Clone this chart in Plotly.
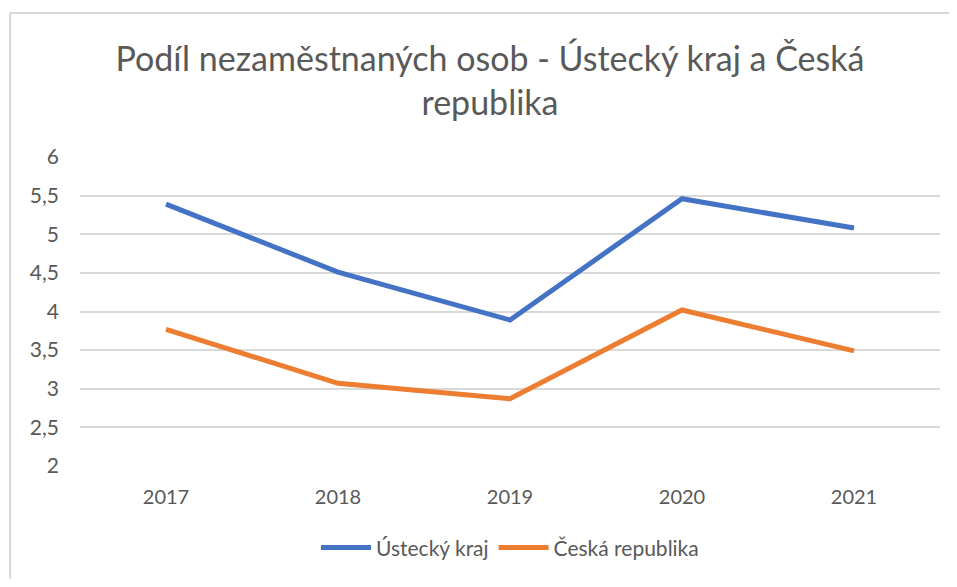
import plotly.graph_objects as go

# data
years = ['2017', '2018', '2019', '2020', '2021']
ustecky = [5.39, 4.51, 3.89, 5.46, 5.08]
ceska = [3.77, 3.07, 2.87, 4.02, 3.49]

font = 'Lato'
grey = '#595959'

fig = go.Figure()
fig.add_scatter(x=years, y=ustecky, mode='lines', name='Ústecký kraj',
                line=dict(color='#4472C4', width=5))
fig.add_scatter(x=years, y=ceska, mode='lines', name='Česká republika',
                line=dict(color='#ED7D31', width=5))

# page has an 8px body margin all round, keep the figure inside the window (no scrollbars)
fig.update_layout(
    width=941, height=571,
    margin=dict(l=72, r=9, t=149, b=113),
    paper_bgcolor='white', plot_bgcolor='white',
    separators=', ',
    font=dict(family=font, color=grey, size=19),
    title=dict(text='Podíl nezaměstnaných osob - Ústecký kraj a Česká<br>republika',
               x=0.5122, xanchor='center', y=0.8897, yanchor='middle',
               font=dict(family=font, size=34, color=grey)),
    showlegend=True,
    legend=dict(orientation='h', x=0.5, xanchor='center', y=-0.265, yanchor='middle',
                itemwidth=50, font=dict(family=font, size=21, color=grey)),
)
fig.update_xaxes(type='category', range=[-0.5, 4.5], showgrid=False, zeroline=False,
                 showline=False, ticks='', ticklabelstandoff=17,
                 tickfont=dict(size=20, color=grey))
fig.update_yaxes(range=[2, 6], dtick=0.5, showgrid=True, gridcolor='#d9d9d9', gridwidth=2,
                 zeroline=False, showline=False, ticks='', ticklabelstandoff=20,
                 tickfont=dict(size=21, color=grey))

# light frame (left and top edges only are visible in the reference)
frame = dict(color='#d9d9d9', width=2)
fig.add_shape(type='line', xref='paper', yref='paper', x0=-0.0814, x1=-0.0814, y0=-1, y1=1.466,
              line=frame, layer='below')
fig.add_shape(type='line', xref='paper', yref='paper', x0=-0.0814, x1=1.5, y0=1.466, y1=1.466,
              line=frame, layer='below')

fig.write_html("out.html")
